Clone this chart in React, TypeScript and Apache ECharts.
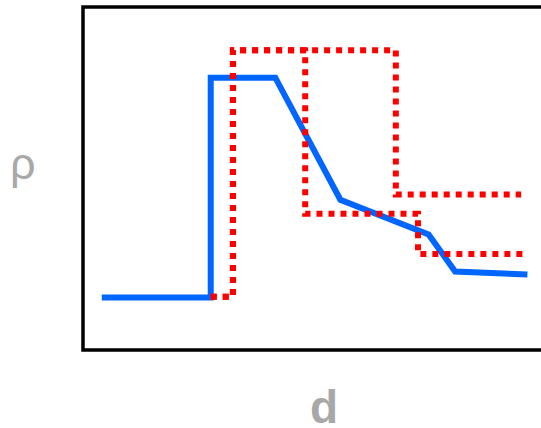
import React, { useEffect, useRef } from "react";
import * as echarts from "echarts";

// Density profile ρ(d): measured curve and two stepped model profiles.
const measuredD = [3.9, 26.5, 26.5, 39.9, 53.4, 71.7, 77.2, 92.2];
const measuredRho = [15.3, 15.3, 79.4, 79.4, 43.8, 33.7, 22.9, 22.0];

const modelAD = [26.5, 31.1, 31.1, 64.9, 64.9, 90.9];
const modelARho = [15.5, 15.5, 87.4, 87.4, 45.3, 45.3];

const modelBD = [26.5, 31.1, 31.1, 46.1, 46.1, 69.5, 69.5, 92.2];
const modelBRho = [15.5, 15.5, 87.4, 87.4, 39.7, 39.7, 28.0, 28.0];

const xLabel = "d";
const yLabel = "ρ";

const pairs = (xs: number[], ys: number[]) => xs.map((x, i) => [x, ys[i]]);

export default function App() {
  const ref = useRef<HTMLDivElement>(null);

  useEffect(() => {
    document.body.style.margin = "0";
    if (!ref.current) return;
    const chart = echarts.init(ref.current, null, { renderer: "svg" });
    const dotted = {
      color: "#ff0000",
      width: 6,
      type: [6, 6] as number[],
      cap: "butt" as const,
      join: "miter" as const,
    };
    chart.setOption({
      animation: false,
      backgroundColor: "#ffffff",
      grid: {
        left: 83,
        top: 7,
        width: 482,
        height: 343,
        outerBoundsMode: "none",
        containLabel: false,
        show: true,
        borderColor: "#000000",
        borderWidth: 3.5,
        backgroundColor: "#ffffff",
      },
      xAxis: {
        type: "value",
        min: 0,
        max: 100,
        axisLine: { show: false },
        axisTick: { show: false },
        axisLabel: { show: false },
        splitLine: { show: false },
      },
      yAxis: {
        type: "value",
        min: 0,
        max: 100,
        axisLine: { show: false },
        axisTick: { show: false },
        axisLabel: { show: false },
        splitLine: { show: false },
      },
      graphic: [
        {
          type: "text",
          left: 10,
          top: 141,
          style: {
            text: yLabel,
            fill: "#a8a8a8",
            font: '45px "Liberation Sans", Arial, sans-serif',
          },
        },
        {
          type: "text",
          left: 310,
          top: 384,
          style: {
            text: xLabel,
            fill: "#a8a8a8",
            font: 'bold 46px "Liberation Sans", Arial, sans-serif',
          },
        },
      ],
      series: [
        {
          type: "line",
          data: pairs(modelBD, modelBRho),
          showSymbol: false,
          lineStyle: dotted,
          z: 3,
        },
        {
          type: "line",
          data: pairs(modelAD, modelARho),
          showSymbol: false,
          lineStyle: dotted,
          z: 3,
        },
        {
          type: "line",
          data: pairs(measuredD, measuredRho),
          showSymbol: false,
          lineStyle: { color: "#0066ff", width: 6, join: "miter" },
          z: 2,
        },
      ],
    });
    return () => chart.dispose();
  }, []);

  return <div ref={ref} style={{ width: 541, height: 428 }} />;
}
